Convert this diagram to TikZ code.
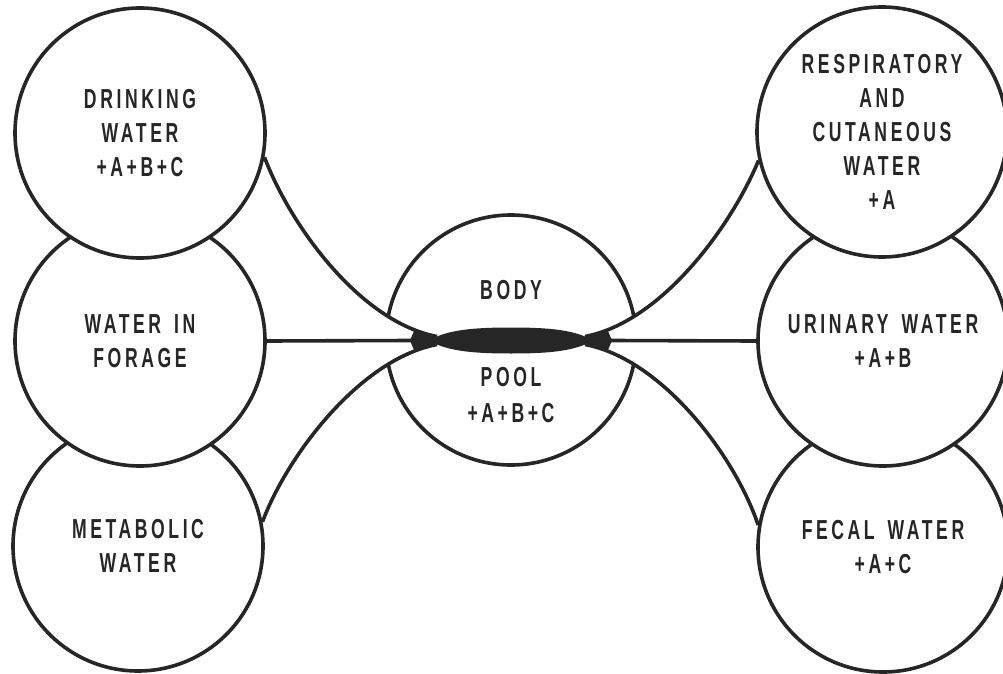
\documentclass[tikz,border=0pt]{standalone}
\usepackage{fontspec}
\newfontfamily\lblfont[FakeStretch=0.64,LetterSpace=13]{Liberation Sans Bold}
\newcommand{\wsp}{\hspace*{13pt}}
\begin{document}
\begin{tikzpicture}[x=1pt,y=-1pt,
  pool/.style={circle,draw=black!85,line width=3.6pt,fill=white,minimum size=250pt,inner sep=0pt,
    font=\lblfont\fontsize{27.5}{34}\selectfont,align=center,text=black!85},
  lbl/.style={font=\lblfont\fontsize{27.5}{36}\selectfont,text=black!85,inner sep=0pt},
  link/.style={draw=black!85,line width=3.6pt}]
\useasboundingbox (0,0) rectangle (1003,674);
% central pool circle
\node[pool] (body) at (511,340) {};
% white gap between the converging curves
\fill[white] (263,160) .. controls (290,225) and (360,322) .. (437,336.5)
  -- (437,344.5) .. controls (360,359) and (287,456) .. (260,522) -- cycle;
\fill[white] (759,160) .. controls (732,225) and (662,322) .. (585,336.5)
  -- (585,344.5) .. controls (662,359) and (735,456) .. (762,526) -- cycle;
% left circles
\node[pool] (metab) at (138,546) {METABOLIC\\WATER};
\node[pool] (forage) at (140,341) {WATER{\wsp}IN\\FORAGE};
\node[pool] (drink) at (140,133) {DRINKING\\WATER\\+A+B+C};
% right circles
\node[pool] (fecal) at (883,547) {FECAL{\wsp}WATER\\+A+C};
\node[pool] (urine) at (883,341) {URINARY{\wsp}WATER\\+A+B};
\node[pool] (resp) at (882,132) {RESPIRATORY\\AND\\CUTANEOUS\\WATER\\+A};
% junction points
\coordinate (neckLa) at (437,336.5);
\coordinate (tipLm) at (411,340.5);
\coordinate (neckLb) at (437,344.5);
\coordinate (neckRa) at (585,336.5);
\coordinate (tipRm) at (611,340.5);
\coordinate (neckRb) at (585,344.5);
% connectors
\draw[link] (drink.-11) .. controls (290,225) and (360,322) .. (neckLa);
\draw[link] (forage.east) -- (tipLm);
\draw[link] (metab.11) .. controls (287,456) and (360,359) .. (neckLb);
\draw[link] (resp.-167) .. controls (732,225) and (662,322) .. (neckRa);
\draw[link] (urine.west) -- (tipRm);
\draw[link] (fecal.170) .. controls (735,456) and (662,359) .. (neckRb);
% black lens with its end wedges
\fill[black!85] (410,340.5) -- (414,331)
  .. controls (423,334.5) and (430,336.5) .. (437,336.5)
  .. controls (455,329) and (480,327.5) .. (511,327.5)
  .. controls (542,327.5) and (567,329) .. (585,336.5)
  .. controls (592,336.5) and (599,334.5) .. (608,331)
  -- (612,340.5) -- (608,350)
  .. controls (599,346.5) and (592,344.5) .. (585,344.5)
  .. controls (567,352) and (542,353.5) .. (511,353.5)
  .. controls (480,353.5) and (455,352) .. (437,344.5)
  .. controls (430,344.5) and (423,346.5) .. (414,350) -- cycle;
% labels in the pool
\node[lbl] (bodylbl) at (511,290) {BODY};
\node[lbl,align=center] (poollbl) at (511,395) {POOL\\+A+B+C};
\end{tikzpicture}
\end{document}
